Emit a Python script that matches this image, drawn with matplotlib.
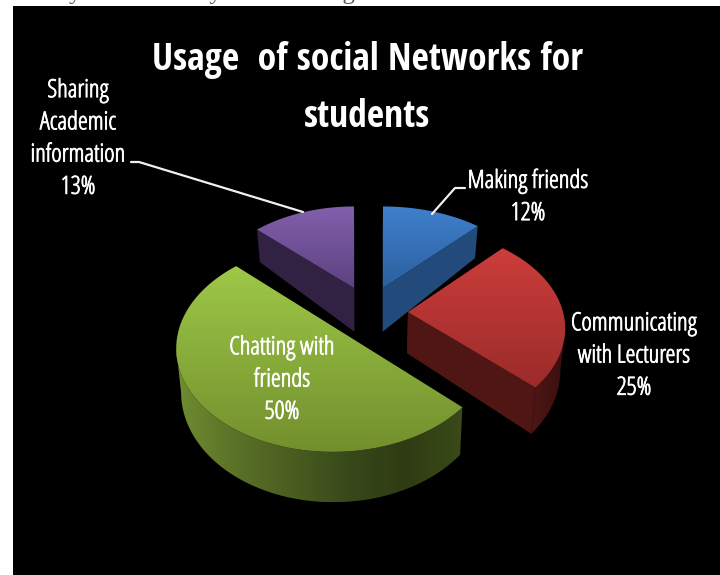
import numpy as np
import matplotlib
matplotlib.use("Agg")
import matplotlib.pyplot as plt
import matplotlib.patheffects as pe
from matplotlib.colors import LinearSegmentedColormap, to_rgb
from matplotlib.patches import Polygon, Rectangle

# Survey shares, clockwise from twelve o'clock
categories = ["Making friends", "Communicating\nwith Lecturers", "Chatting with\nfriends",
              "Sharing\nAcademic\ninformation"]
shares = [12, 25, 50, 13]
title_lines = ["Usage  of social Networks for", "students"]
page_line = "of many faculties may use the integrated network of CMC."

# Slice geometry on the canvas (pixels): apex, half-axes and perspective terms
apex = [(383, 288), (408, 312), (353, 339), (354, 288)]
half_w = [155, 155, 155, 148]
half_h = [95, 98, 103, 95]
persp_depth = [0.165, 0.165, 0.08, 0.165]
persp_side = [0.0, 0.0, 0.12, 0.0]
wall_near_far = [(0.19, -11), (0.065, 21), (0.065, 21), (0.19, -11)]
draw_order = [3, 0, 1, 2]

top_colors = [("#3f80cc", "#2c609f"), ("#cc3d3b", "#9a2b29"), ("#9ec848", "#728f2d"), ("#835fac", "#5c4280")]
face_colors = ["#224a7a", "#4f1614", None, "#312244"]
wall_colors = [["#224a7a", "#224a7a"], ["#4e1614", "#3a100f"],
               ["#708d30", "#5b7228", "#4a5e20", "#38491a", "#2f3c13", "#3a4a18"],
               ["#312244", "#312244"]]

CONVERGE = 0.975
VANISH_X = 370

fig = plt.figure(figsize=(7.2, 5.75), dpi=100, facecolor="white")
ax = fig.add_axes([0, 0, 1, 1])
ax.set_xlim(0, 720)
ax.set_ylim(575, 0)
ax.axis("off")

ax.text(-1, -0.5, page_line, family="Liberation Serif", fontsize=18, color="#555555", va="baseline", ha="left")
ax.add_patch(Rectangle((13, 6), 707, 569, facecolor="black", edgecolor="none", zorder=1))


def shade(poly, colors, horizontal, zorder):
    """Fill a polygon with a colour ramp clipped to its outline."""
    x0, y0 = poly.min(axis=0)
    x1, y1 = poly.max(axis=0)
    grad = np.linspace(0, 1, 256)
    grad = grad[None, :] if horizontal else grad[:, None]
    cmap = LinearSegmentedColormap.from_list("ramp", [to_rgb(c) for c in colors])
    im = ax.imshow(grad, cmap=cmap, extent=(x0, x1, y1, y0), aspect="auto",
                   zorder=zorder, interpolation="bilinear")
    patch = Polygon(poly, closed=True, transform=ax.transData, facecolor="none", edgecolor="none")
    ax.add_patch(patch)
    im.set_clip_path(patch)


def project(i, theta):
    """Perspective projection of a unit-radius rim point of slice i."""
    w = 1 + persp_depth[i] * np.cos(theta) + persp_side[i] * np.sin(theta)
    x = apex[i][0] + half_w[i] * np.sin(theta) / w
    y = apex[i][1] - half_h[i] * np.cos(theta) / w
    return np.column_stack([x, y])


def lower(i, pts):
    """Matching points on the bottom surface of slice i."""
    slope, base = wall_near_far[i]
    x = VANISH_X + CONVERGE * (pts[:, 0] - VANISH_X)
    return np.column_stack([x, pts[:, 1] + base + slope * pts[:, 1]])


edges = np.cumsum([0] + shares) / sum(shares) * 2 * np.pi

for layer, i in enumerate(draw_order):
    z = 2 + layer * 5
    t0, t1 = edges[i], edges[i + 1]
    thetas = np.linspace(t0, t1, 400)
    rim = project(i, thetas)
    tip = np.array([apex[i]], dtype=float)

    # radial faces of the slice
    if face_colors[i] is not None:
        for end in (rim[0:1], rim[-1:]):
            top = np.vstack([tip, end])
            wall = np.vstack([top, lower(i, top)[::-1]])
            ax.add_patch(Polygon(wall, closed=True, facecolor=face_colors[i], edgecolor="none", zorder=z))

    # outer wall, only where the rim faces the viewer (x falls as theta grows)
    facing = np.gradient(rim[:, 0]) < 0
    if facing.sum() > 1:
        arc = rim[facing]
        wall = np.vstack([arc, lower(i, arc)[::-1]])
        shade(wall, wall_colors[i], True, z + 1)

    # top surface
    top = np.vstack([tip, rim])
    shade(top, top_colors[i], False, z + 2)

# Data labels built from the shares
label_pos = [(528, 197), (634, 356), (282, 380), (78, 139)]
for name, share, (x, y) in zip(categories, shares, label_pos):
    ax.text(x, y, f"{name}\n{share}%", color="white", ha="center", va="center",
            family="Open Sans", stretch="condensed", fontweight=300, fontsize=18,
            linespacing=1.38, zorder=40,
            path_effects=[pe.withStroke(linewidth=0.6, foreground="white")])

# Leader lines
ax.plot([131, 139, 303], [162, 162, 212], color="#f0f0f0", lw=1.6, zorder=30, solid_capstyle="round")
ax.plot([465, 455, 432], [188, 188, 214], color="#f0f0f0", lw=1.6, zorder=30, solid_capstyle="round")

for line, y in zip(title_lines, (60, 117)):
    ax.text(367, y, line, color="white", ha="center", va="center", family="Open Sans Condensed",
            fontweight="bold", fontsize=27, zorder=40)

fig.savefig("out.png", dpi=100, facecolor="white")
